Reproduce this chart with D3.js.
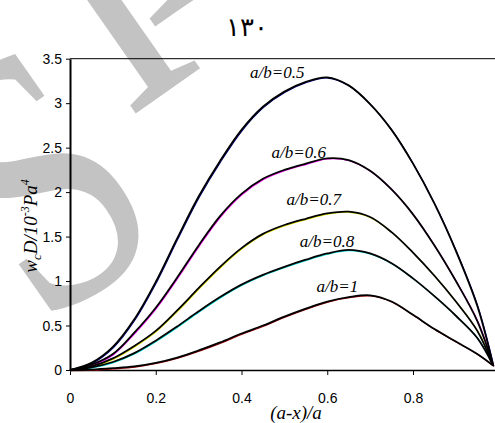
<!DOCTYPE html>
<html>
<head>
<meta charset="utf-8">
<script src="https://cdn.jsdelivr.net/npm/d3@7"></script>
<style>
  body { margin: 0; background: #fff; }
  svg { display: block; }
</style>
</head>
<body>
<script>
(function (d3) {
  'use strict';

  // x positions (a-x)/a shared by all curves
  const xValues = [0, 0.05, 0.1, 0.15, 0.2, 0.25, 0.3, 0.35, 0.4, 0.45, 0.5,
    0.55, 0.6, 0.65, 0.7, 0.75, 0.8, 0.85, 0.9, 0.95, 0.987];

  // w_c D / 10^-3 Pa^4 for each a/b
  const ab05 = [0, 0.08, 0.26, 0.57, 0.99, 1.48, 1.95, 2.35, 2.7, 2.96, 3.13,
    3.24, 3.29, 3.2, 2.99, 2.7, 2.32, 1.87, 1.34, 0.72, 0.05];
  const ab06 = [0, 0.06, 0.18, 0.42, 0.7, 1.04, 1.4, 1.73, 1.98, 2.15, 2.25,
    2.32, 2.38, 2.36, 2.24, 2.03, 1.75, 1.4, 1.0, 0.55, 0.05];
  const ab07 = [0, 0.04, 0.13, 0.27, 0.44, 0.67, 0.92, 1.16, 1.37, 1.53, 1.63,
    1.7, 1.76, 1.78, 1.72, 1.55, 1.32, 1.06, 0.77, 0.44, 0.05];
  const ab08 = [0, 0.03, 0.09, 0.19, 0.33, 0.49, 0.66, 0.82, 0.96, 1.07, 1.16,
    1.24, 1.31, 1.35, 1.31, 1.2, 1.03, 0.83, 0.61, 0.36, 0.05];
  const ab10 = [0, 0.005, 0.02, 0.04, 0.08, 0.14, 0.22, 0.31, 0.41, 0.5, 0.6,
    0.69, 0.77, 0.82, 0.84, 0.77, 0.62, 0.46, 0.32, 0.18, 0.05];

  const seriesNames = ['a/b=0.5', 'a/b=0.6', 'a/b=0.7', 'a/b=0.8', 'a/b=1'];
  const seriesValues = [ab05, ab06, ab07, ab08, ab10];
  const seriesTints = ['#000080', '#ff00ff', '#e8e800', '#00e0e0', '#a00000'];
  // where each curve label starts, in data units
  const labelX = [0.42, 0.47, 0.505, 0.536, 0.575];
  const labelY = [3.285, 2.385, 1.85, 1.384, 0.88];

  const xTicks = [0, 0.2, 0.4, 0.6, 0.8];
  const yTicks = [0, 0.5, 1, 1.5, 2, 2.5, 3, 3.5];

  const width = 495;
  const height = 423;
  const margin = { top: 58.7, left: 70, bottom: 53 };

  const svg = d3.select('body')
    .append('svg')
    .attr('width', width)
    .attr('height', height);

  // watermark
  const mark = svg.append('text')
    .attr('transform', 'translate(40,330) rotate(-35) scale(1,1.25)')
    .attr('font-family', 'Liberation Serif, serif')
    .attr('font-size', 300)
    .attr('fill', '#c3c3c3');
  mark.append('tspan').text('S');
  mark.append('tspan').attr('dx', 25).attr('dy', -98).text('I');
  mark.append('tspan').attr('dx', -32).attr('dy', -48).text('D');

  // page number
  svg.append('text')
    .attr('x', 247)
    .attr('y', 36)
    .attr('text-anchor', 'middle')
    .attr('font-family', 'DejaVu Serif, serif')
    .attr('font-size', 26)
    .text('۱۳۰');

  const xScale = d3.scaleLinear()
    .domain([0, 1])
    .range([margin.left, 498.75]);

  const yScale = d3.scaleLinear()
    .domain([0, 3.5])
    .range([height - margin.bottom, margin.top]);

  // top frame line
  svg.append('line')
    .attr('x1', margin.left).attr('x2', width)
    .attr('y1', yScale(3.5)).attr('y2', yScale(3.5))
    .attr('stroke', '#000').attr('stroke-width', 1);

  const xAxis = svg.append('g')
    .attr('class', 'x-axis')
    .attr('transform', `translate(0, ${yScale(0)})`)
    .call(d3.axisBottom(xScale).tickValues(xTicks).tickSize(5).tickSizeOuter(0)
      .tickFormat((d) => (d === 0 ? '0' : d3.format('.1f')(d))));
  xAxis.select('.domain').attr('stroke-width', 1.5);
  xAxis.selectAll('text')
    .attr('font-family', 'Liberation Sans, Arial, sans-serif')
    .attr('font-size', 14)
    .attr('fill', '#000')
    .attr('dy', '1.75em');

  const yAxis = svg.append('g')
    .attr('class', 'y-axis')
    .attr('transform', `translate(${margin.left}, 0)`)
    .call(d3.axisLeft(yScale).tickValues(yTicks).tickSize(4).tickSizeOuter(0)
      .tickFormat(d3.format('')));
  yAxis.select('.domain').attr('stroke-width', 2);
  yAxis.selectAll('text')
    .attr('font-family', 'Liberation Sans, Arial, sans-serif')
    .attr('font-size', 14)
    .attr('fill', '#000')
    .attr('x', -8);

  const line = d3.line()
    .x((d) => xScale(d[0]))
    .y((d) => yScale(d[1]))
    .curve(d3.curveCatmullRom.alpha(0.5));

  const series = seriesValues.map((vals) => vals.map((v, i) => [xValues[i], v]));

  // faint coloured fringe under each black curve
  svg.append('g')
    .selectAll('path')
    .data(series)
    .join('path')
    .attr('d', line)
    .attr('transform', 'translate(0.7,0.7)')
    .attr('fill', 'none')
    .attr('stroke', (d, i) => seriesTints[i])
    .attr('stroke-width', 1.1);

  svg.append('g')
    .selectAll('path')
    .data(series)
    .join('path')
    .attr('d', line)
    .attr('fill', 'none')
    .attr('stroke', '#000')
    .attr('stroke-width', 1.8);

  svg.append('g')
    .selectAll('text')
    .data(seriesNames)
    .join('text')
    .attr('x', (d, i) => xScale(labelX[i]))
    .attr('y', (d, i) => yScale(labelY[i]))
    .attr('font-family', 'Liberation Serif, Times New Roman, serif')
    .attr('font-style', 'italic')
    .attr('font-size', 17)
    .text((d) => d);

  // axis titles
  svg.append('text')
    .attr('x', 296)
    .attr('y', 419)
    .attr('text-anchor', 'middle')
    .attr('font-family', 'Liberation Serif, Times New Roman, serif')
    .attr('font-style', 'italic')
    .attr('font-size', 19)
    .text('(a-x)/a');

  const yTitle = svg.append('text')
    .attr('transform', 'translate(37, 226) rotate(-90)')
    .attr('text-anchor', 'middle')
    .attr('font-family', 'Liberation Serif, Times New Roman, serif')
    .attr('font-style', 'italic')
    .attr('font-size', 19);
  yTitle.append('tspan').text('w');
  yTitle.append('tspan').attr('font-size', 13).attr('dy', 4).text('c');
  yTitle.append('tspan').attr('dy', -4).text('D/10');
  yTitle.append('tspan').attr('font-size', 12).attr('dy', -8).text('-3');
  yTitle.append('tspan').attr('dy', 8).text('Pa');
  yTitle.append('tspan').attr('font-size', 12).attr('dy', -8).text('4');

}(d3));
</script>
</body>
</html>
